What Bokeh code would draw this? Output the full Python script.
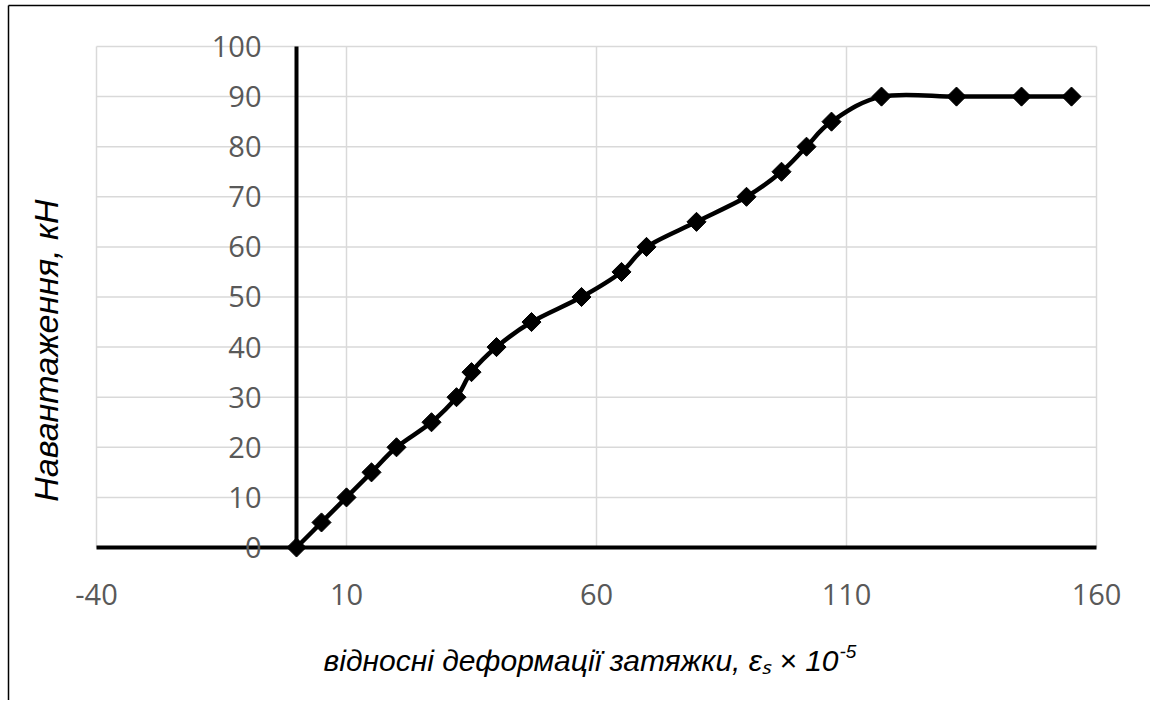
import numpy as np
from bokeh.plotting import figure
from bokeh.models import Label, FixedTicker, LinearAxis
from bokeh.embed import file_html
from bokeh.resources import INLINE

# data
strain = [0, 5, 10, 15, 20, 27, 32, 35, 40, 47, 57, 65, 70, 80, 90, 97, 102, 107, 117, 132, 145, 155]
load = [0, 5, 10, 15, 20, 25, 30, 35, 40, 45, 50, 55, 60, 65, 70, 75, 80, 85, 90, 90, 90, 90]
x_ticks = [-40, 10, 60, 110, 160]
y_ticks = [0, 10, 20, 30, 40, 50, 60, 70, 80, 90, 100]
y_title = "Навантаження, кН"
x_title = "відносні деформації затяжки, εₛ × 10"
x_title_exp = "-5"

X0, X1 = x_ticks[0], x_ticks[-1]
Y0, Y1 = y_ticks[0], y_ticks[-1]

p = figure(width=1150, height=700, x_range=(-59.2, 170.8), y_range=(-30.54, 109.18),
           output_backend="svg", toolbar_location=None,
           x_axis_location=None, y_axis_location=None,
           min_border=0)
p.outline_line_color = None
p.background_fill_color = "white"
p.border_fill_color = "white"
p.xgrid.visible = False
p.ygrid.visible = False

# grid lines (drawn from the tick lists)
p.segment(x0=x_ticks, y0=[Y0] * len(x_ticks), x1=x_ticks, y1=[Y1] * len(x_ticks),
          line_color="#d9d9d9", line_width=1.5)
p.segment(x0=[X0] * len(y_ticks), y0=y_ticks, x1=[X1] * len(y_ticks), y1=y_ticks,
          line_color="#d9d9d9", line_width=1.5)

# axis lines through the origin
p.segment(x0=[X0, 0], y0=[0, Y0], x1=[X1, 0], y1=[0, Y1], line_color="black", line_width=4)

# chart-area border (left and top edges)
p.segment(x0=[-57.6, -57.6], y0=[108.18, 108.18], x1=[-57.6, 170.8], y1=[-30.54, 108.18],
          line_color="black", line_width=1.5)

# axes with labels crossing at zero
xax = LinearAxis(fixed_location=0, ticker=FixedTicker(ticks=x_ticks))
yax = LinearAxis(fixed_location=0, ticker=FixedTicker(ticks=y_ticks))
for ax in (xax, yax):
    ax.axis_line_color = None
    ax.major_tick_line_color = None
    ax.minor_tick_line_color = None
    ax.major_label_text_color = "#595959"
    ax.major_label_text_font = "Open Sans"
    ax.major_label_text_font_size = "29px"
xax.major_label_standoff = 31
yax.major_label_standoff = 29
xax.major_label_overrides = {-40: "-40"}
p.add_layout(xax, "below")
p.add_layout(yax, "left")

# smoothed line (Excel style cubic Bezier through the points)
xs = np.array(strain, dtype=float)
ys = np.array(load, dtype=float)
xp = np.concatenate([[xs[0]], xs, [xs[-1]]])
yp = np.concatenate([[ys[0]], ys, [ys[-1]]])
dx = (xp[2:] - xp[:-2]) / 6.0
dy = (yp[2:] - yp[:-2]) / 6.0
p.bezier(x0=xs[:-1], y0=ys[:-1], x1=xs[1:], y1=ys[1:],
         cx0=xs[:-1] + dx[:-1], cy0=ys[:-1] + dy[:-1],
         cx1=xs[1:] - dx[1:], cy1=ys[1:] - dy[1:],
         line_color="black", line_width=4.5)

p.scatter(strain, load, marker="square", angle=np.pi / 4, size=13.5,
          fill_color="black", line_color="black")

# axis titles
title_style = dict(text_font="Liberation Sans", text_font_style="italic", text_color="black")
p.add_layout(Label(x=-50.2, y=39.3, text=y_title, angle=np.pi / 2,
                   text_align="center", text_baseline="middle",
                   text_font_size="34px", **title_style))
p.add_layout(Label(x=108.4, y=-22.55, text=x_title,
                   text_align="right", text_baseline="middle",
                   text_font_size="30px", **title_style))
p.add_layout(Label(x=108.4, y=-22.55, y_offset=9, x_offset=1, text=x_title_exp,
                   text_align="left", text_baseline="middle",
                   text_font_size="19px", **title_style))

open("out.html", "w").write(file_html(p, INLINE))
